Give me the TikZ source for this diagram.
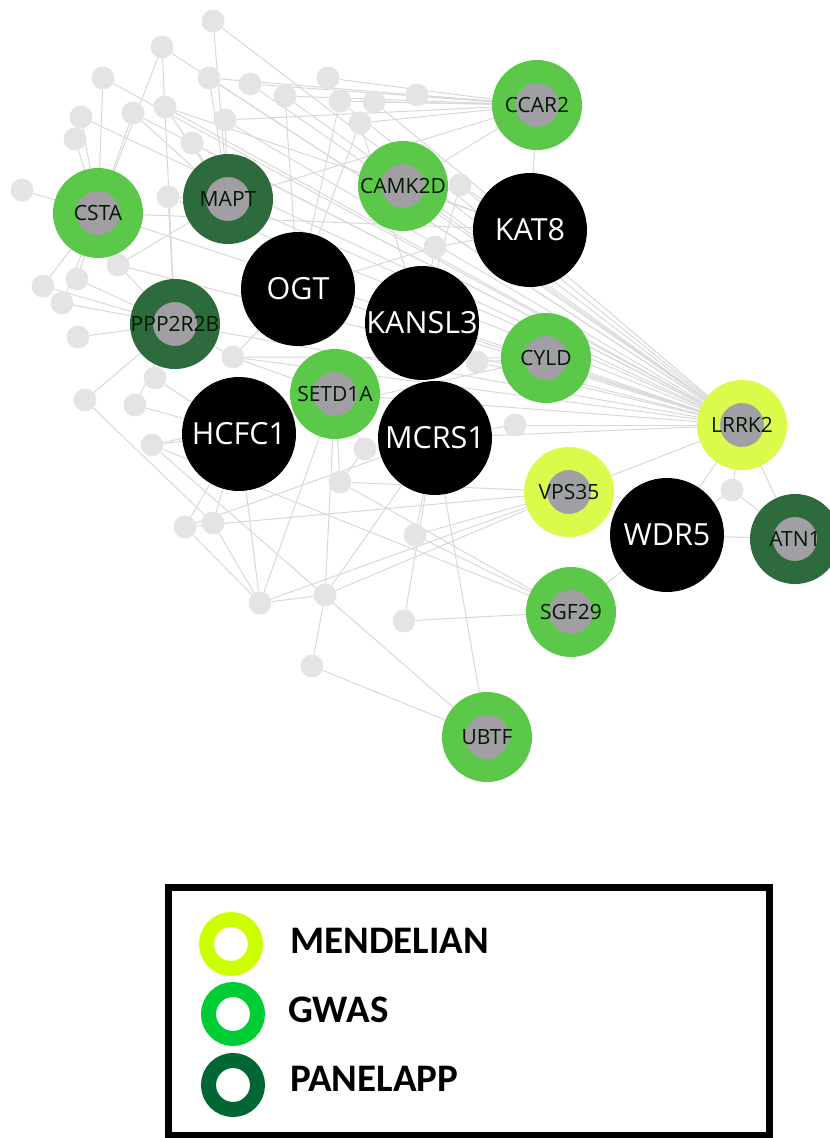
\documentclass[tikz,border=0pt]{standalone}
\usepackage{fontspec}
\usetikzlibrary{backgrounds}
\newfontfamily\genefont{Open Sans}
\newfontfamily\keyfont{Carlito}

\definecolor{edgegray}{HTML}{D8D8D8}
\definecolor{dotgray}{HTML}{E4E4E4}
\definecolor{coregray}{HTML}{A19FA3}
\definecolor{gwasnode}{HTML}{5CC84A}
\definecolor{panelnode}{HTML}{2E6B3C}
\definecolor{mendnode}{HTML}{DAFB4B}
\definecolor{mendkey}{HTML}{CCFF00}
\definecolor{gwaskey}{HTML}{00CC33}
\definecolor{panelkey}{HTML}{006633}

\tikzset{
  edge/.style={draw=edgegray, line width=1pt},
  dot/.style={circle, fill=dotgray, minimum size=23pt, inner sep=0pt},
  hub/.style={circle, fill=black, minimum size=114pt, inner sep=0pt,
    text=white, font=\genefont\fontsize{30.5}{30.5}\selectfont},
  gene/.style={circle, draw=#1, fill=coregray, line width=23pt,
    minimum size=67pt, inner sep=0pt},
  genetext/.style={text=black!90!green, inner sep=0pt,
    font=\genefont\fontsize{21}{21}\selectfont},
  keyring/.style={circle, draw=#1, line width=15pt, minimum size=49pt,
    inner sep=0pt},
  keytext/.style={anchor=base west, inner sep=0pt,
    font=\keyfont\bfseries\fontsize{39}{39}\selectfont},
}

\begin{document}
\begin{tikzpicture}[x=1pt, y=-1pt]
\useasboundingbox (0,0) rectangle (830,1138);

% small interactor nodes
\foreach \n/\px/\py in {
  g1/213/21, g2/162/47, g3/103/78, g4/209/78, g5/250/84, g6/285/96,
  g7/328/78, g8/340/101, g9/374/102, g10/417/95, g11/133/113,
  g12/165/107, g13/81/117, g14/75/139, g15/225/120, g16/192/143,
  g17/22/190, g18/168/197, g19/360/123, g20/43/286, g21/77/279,
  g22/62/303, g23/78/337, g24/118/265, g25/155/378, g26/233/357,
  g27/85/400, g28/135/405, g29/152/445, g30/185/527, g31/213/523,
  g32/340/482, g33/365/449, g34/415/535, g35/260/603, g36/325/595,
  g37/404/621, g38/312/666, g39/732/490, g40/435/247, g41/460/185,
  g42/477/362, g43/515/425}
  \node[dot] (\n) at (\px,\py) {};

% hub proteins
\node[hub] (ogt)    at (298,289) {OGT};
\node[hub] (kansl3) at (422,323) {KANSL3};
\node[hub] (kat8)   at (530,230) {KAT8};
\node[hub] (hcfc1)  at (239,434) {HCFC1};
\node[hub] (mcrs1)  at (435,438) {MCRS1};
\node[hub] (wdr5)   at (667,535) {WDR5};

% disease genes
\node[gene=gwasnode,  label={[genetext]center:CCAR2}]   (ccar2)  at (537,105) {};
\node[gene=gwasnode,  label={[genetext]center:CAMK2D}]  (camk2d) at (403,186) {};
\node[gene=gwasnode,  label={[genetext]center:CSTA}]    (csta)   at (98,213)  {};
\node[gene=panelnode, label={[genetext]center:MAPT}]    (mapt)   at (228,199) {};
\node[gene=panelnode, label={[genetext]center:PPP2R2B}] (ppp)    at (175,324) {};
\node[gene=gwasnode,  label={[genetext]center:SETD1A}]  (setd1a) at (335,394) {};
\node[gene=gwasnode,  label={[genetext]center:CYLD}]    (cyld)   at (546,358) {};
\node[gene=mendnode,  label={[genetext]center:LRRK2}]   (lrrk2)  at (742,425) {};
\node[gene=mendnode,  label={[genetext]center:VPS35}]   (vps35)  at (569,492) {};
\node[gene=panelnode, label={[genetext]center:ATN1}]    (atn1)   at (795,539) {};
\node[gene=gwasnode,  label={[genetext]center:SGF29}]   (sgf29)  at (571,612) {};
\node[gene=gwasnode,  label={[genetext]center:UBTF}]    (ubtf)   at (487,737) {};

% interactions
\begin{pgfonlayer}{background}
\foreach \a/\b in {
  g1/lrrk2, g2/lrrk2, g3/lrrk2, g4/lrrk2, g5/lrrk2, g6/lrrk2, g11/lrrk2,
  g12/lrrk2, g13/lrrk2, g15/lrrk2, g16/lrrk2, g18/lrrk2, g24/lrrk2,
  csta/lrrk2, mapt/lrrk2, ppp/lrrk2, ogt/lrrk2, camk2d/lrrk2,
  kansl3/lrrk2, cyld/lrrk2, mcrs1/lrrk2, vps35/lrrk2, setd1a/lrrk2,
  g26/lrrk2, g8/lrrk2, g41/lrrk2, g42/lrrk2, g43/lrrk2, wdr5/lrrk2,
  atn1/lrrk2, g39/lrrk2,
  g5/ccar2, g6/ccar2, g7/ccar2, g8/ccar2, g9/ccar2, g10/ccar2, g15/ccar2,
  camk2d/ccar2, kat8/ccar2, mapt/ccar2, g4/ccar2, g19/ccar2,
  g40/kat8, g41/kat8, g9/kat8, camk2d/kat8, csta/kat8, g12/kat8,
  g17/csta, g14/csta, g13/csta, g11/csta, g20/csta, g21/csta, g22/csta,
  g3/csta, g2/csta, g24/csta,
  g1/mapt, g4/mapt, g12/mapt, g16/mapt, g15/mapt, g11/mapt, g24/mapt,
  g18/mapt,
  g20/ppp, g21/ppp, g22/ppp, g23/ppp, g25/ppp, g26/ppp, g18/ppp,
  g27/ppp, g2/ppp, g28/ppp, g24/ppp,
  g26/ogt, g8/ogt, g19/ogt, g6/ogt, g40/ogt,
  g29/hcfc1, g30/hcfc1, g31/hcfc1, g28/hcfc1, g35/hcfc1, g25/hcfc1,
  g33/setd1a, g32/setd1a, g36/setd1a, g26/setd1a, g35/setd1a,
  g34/mcrs1, g37/mcrs1, g36/mcrs1, ubtf/mcrs1, g33/mcrs1, g30/mcrs1,
  g43/mcrs1,
  g40/kansl3, g41/kansl3, g42/kansl3, g19/kansl3,
  atn1/wdr5, sgf29/wdr5, g39/wdr5, vps35/wdr5, g39/atn1,
  g37/sgf29, g29/sgf29, g32/sgf29, g34/sgf29,
  g38/ubtf, g29/ubtf,
  g31/g35, g30/g35, g36/g35, g36/g38, g32/g33, g27/g31,
  g35/vps35, g36/vps35, g32/vps35, g30/vps35, g34/vps35,
  g42/cyld, g26/cyld, g29/cyld}
  \draw[edge] (\a) -- (\b);
\end{pgfonlayer}

% key
\node[draw=black, line width=7pt, minimum width=601pt, minimum height=248pt,
  inner sep=0pt] (keybox) at (468.5,1011) {};
\node[keyring=mendkey]  (kmend)  at (231,944)  {};
\node[keyring=gwaskey]  (kgwas)  at (233,1014) {};
\node[keyring=panelkey] (kpanel) at (233,1085) {};
\node[keytext] (tmend)  at (290,953)  {MENDELIAN};
\node[keytext] (tgwas)  at (288,1022) {GWAS};
\node[keytext] (tpanel) at (290,1091) {PANELAPP};
\end{tikzpicture}
\end{document}
